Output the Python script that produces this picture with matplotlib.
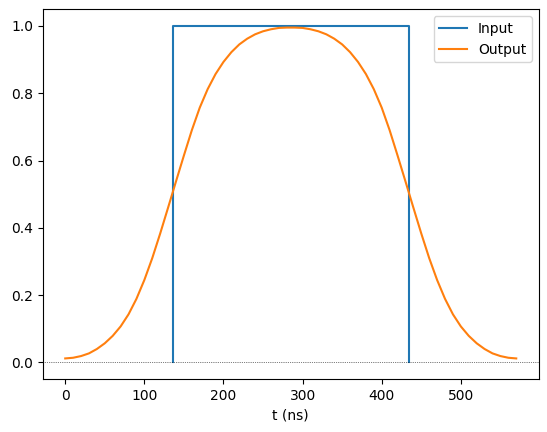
import numpy as np
import matplotlib.pyplot as plt

# input pulse (square)
t_in = [136, 136, 435, 435]
y_in = [0, 1, 1, 0]

# output pulse, rising half then falling half
t_rise = [0, 10, 20, 30, 40, 50, 60, 70, 80, 90, 100, 110, 120, 130, 140,
          150, 160, 170, 180, 190, 200, 210, 220, 230, 240, 250, 260, 270, 280, 285]
y_rise = [0.012, 0.014, 0.019, 0.027, 0.040, 0.057, 0.079, 0.107, 0.143, 0.189,
          0.245, 0.310, 0.383, 0.460, 0.538, 0.615, 0.690, 0.757, 0.812, 0.857,
          0.893, 0.922, 0.945, 0.962, 0.975, 0.984, 0.990, 0.994, 0.995, 0.995]
t_fall = [290, 300, 310, 320, 330, 340, 350, 360, 370, 380, 390, 400, 410, 420,
          430, 440, 450, 460, 470, 480, 490, 500, 510, 520, 530, 540, 550, 560, 570]
y_fall = [0.995, 0.994, 0.990, 0.984, 0.975, 0.962, 0.945, 0.922, 0.893, 0.857,
          0.812, 0.757, 0.690, 0.615, 0.538, 0.460, 0.383, 0.310, 0.245, 0.189,
          0.143, 0.107, 0.079, 0.057, 0.040, 0.027, 0.019, 0.014, 0.012]

t_out = np.array(t_rise + t_fall)
y_out = np.array(y_rise + y_fall)

fig = plt.figure(figsize=(5.47, 4.32), dpi=100)
ax = fig.add_axes([0.078, 0.122, 0.907, 0.857])

ax.plot(t_in, y_in, label="Input")
ax.plot(t_out, y_out, label="Output")
ax.axhline(0, color="black", linestyle=":", linewidth=0.5)

ax.set_xlabel("t (ns)")
ax.legend(loc="upper right")

plt.savefig("out.png", dpi=100)
